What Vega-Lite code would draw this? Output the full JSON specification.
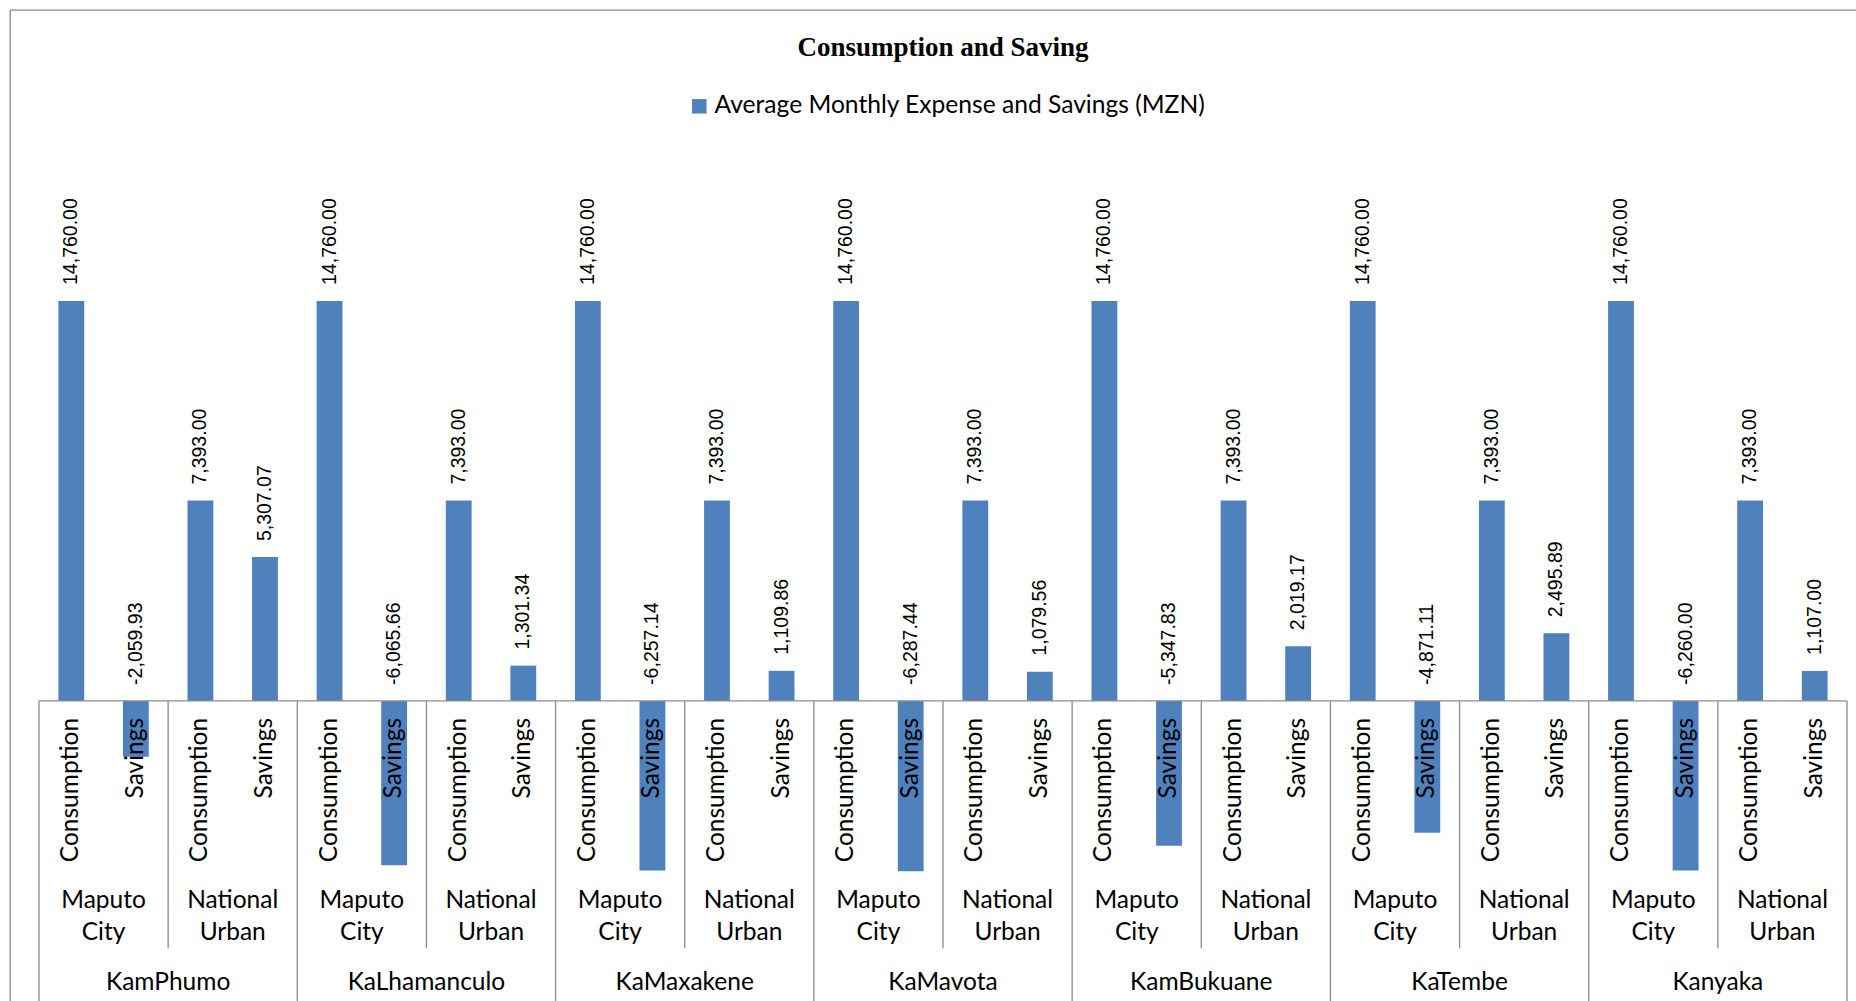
{
  "$schema": "https://vega.github.io/schema/vega-lite/v6.json",
  "autosize": "none",
  "width": 1866,
  "height": 1016,
  "padding": {"left": 10, "top": 10, "right": -20, "bottom": -25},
  "background": "white",
  "title": {
    "text": "Consumption and Saving",
    "font": "Liberation Serif",
    "fontWeight": "bold",
    "fontSize": 27,
    "color": "#000000",
    "anchor": "middle",
    "frame": "group",
    "offset": -52
  },
  "data": {
    "values": [
      {"district": "KamPhumo", "area": "Maputo City", "item": "Consumption", "value": 14760.00},
      {"district": "KamPhumo", "area": "Maputo City", "item": "Savings", "value": -2059.93},
      {"district": "KamPhumo", "area": "National Urban", "item": "Consumption", "value": 7393.00},
      {"district": "KamPhumo", "area": "National Urban", "item": "Savings", "value": 5307.07},
      {"district": "KaLhamanculo", "area": "Maputo City", "item": "Consumption", "value": 14760.00},
      {"district": "KaLhamanculo", "area": "Maputo City", "item": "Savings", "value": -6065.66},
      {"district": "KaLhamanculo", "area": "National Urban", "item": "Consumption", "value": 7393.00},
      {"district": "KaLhamanculo", "area": "National Urban", "item": "Savings", "value": 1301.34},
      {"district": "KaMaxakene", "area": "Maputo City", "item": "Consumption", "value": 14760.00},
      {"district": "KaMaxakene", "area": "Maputo City", "item": "Savings", "value": -6257.14},
      {"district": "KaMaxakene", "area": "National Urban", "item": "Consumption", "value": 7393.00},
      {"district": "KaMaxakene", "area": "National Urban", "item": "Savings", "value": 1109.86},
      {"district": "KaMavota", "area": "Maputo City", "item": "Consumption", "value": 14760.00},
      {"district": "KaMavota", "area": "Maputo City", "item": "Savings", "value": -6287.44},
      {"district": "KaMavota", "area": "National Urban", "item": "Consumption", "value": 7393.00},
      {"district": "KaMavota", "area": "National Urban", "item": "Savings", "value": 1079.56},
      {"district": "KamBukuane", "area": "Maputo City", "item": "Consumption", "value": 14760.00},
      {"district": "KamBukuane", "area": "Maputo City", "item": "Savings", "value": -5347.83},
      {"district": "KamBukuane", "area": "National Urban", "item": "Consumption", "value": 7393.00},
      {"district": "KamBukuane", "area": "National Urban", "item": "Savings", "value": 2019.17},
      {"district": "KaTembe", "area": "Maputo City", "item": "Consumption", "value": 14760.00},
      {"district": "KaTembe", "area": "Maputo City", "item": "Savings", "value": -4871.11},
      {"district": "KaTembe", "area": "National Urban", "item": "Consumption", "value": 7393.00},
      {"district": "KaTembe", "area": "National Urban", "item": "Savings", "value": 2495.89},
      {"district": "Kanyaka", "area": "Maputo City", "item": "Consumption", "value": 14760.00},
      {"district": "Kanyaka", "area": "Maputo City", "item": "Savings", "value": -6260.00},
      {"district": "Kanyaka", "area": "National Urban", "item": "Consumption", "value": 7393.00},
      {"district": "Kanyaka", "area": "National Urban", "item": "Savings", "value": 1107.00}
    ]
  },
  "transform": [
    {"calculate": "datum.district + ' | ' + datum.area + ' | ' + datum.item", "as": "slot"}
  ],
  "encoding": {
    "x": {
      "field": "slot",
      "type": "nominal",
      "sort": null,
      "axis": null,
      "scale": {"paddingInner": 0, "paddingOuter": 0.4491}
    }
  },
  "layer": [
    {
      "mark": {"type": "bar", "width": {"band": 0.4}},
      "encoding": {
        "y": {
          "field": "value",
          "type": "quantitative",
          "axis": null,
          "scale": {"domain": [-12000, 25500], "nice": false, "zero": false}
        },
        "color": {
          "datum": "Average Monthly Expense and Savings (MZN)",
          "type": "nominal",
          "scale": {"range": ["#4F81BD"]},
          "legend": {
            "title": null,
            "orient": "none",
            "legendX": 677,
            "legendY": 84,
            "padding": 0,
            "symbolType": "square",
            "symbolSize": 210,
            "symbolStrokeWidth": 0,
            "labelOffset": 3,
            "labelFont": "Lato",
            "labelFontSize": 24.6,
            "labelColor": "#000000",
            "labelLimit": 800
          }
        }
      }
    },
    {
      "mark": {
        "type": "text",
        "angle": 270,
        "align": "left",
        "baseline": "middle",
        "dx": 16,
        "font": "Liberation Sans",
        "fontSize": 19.5,
        "color": "#000000"
      },
      "encoding": {
        "y": {"field": "value", "type": "quantitative"},
        "text": {"field": "value", "type": "quantitative", "format": ",.2f"},
        "opacity": {"condition": {"test": "datum.value < 0", "value": 0}, "value": 1}
      }
    },
    {
      "mark": {
        "type": "text",
        "angle": 270,
        "align": "left",
        "baseline": "middle",
        "dx": 16,
        "font": "Liberation Sans",
        "fontSize": 19.5,
        "color": "#000000"
      },
      "encoding": {
        "y": {"datum": 0, "type": "quantitative"},
        "text": {"field": "value", "type": "quantitative", "format": ",.2f"},
        "opacity": {"condition": {"test": "datum.value < 0", "value": 1}, "value": 0}
      }
    },
    {
      "mark": {
        "type": "text",
        "angle": 270,
        "align": "right",
        "baseline": "middle",
        "dx": -17,
        "font": "Lato",
        "fontSize": 24.5,
        "color": "#000000"
      },
      "encoding": {
        "y": {"datum": 0, "type": "quantitative"},
        "text": {"field": "item", "type": "nominal"}
      }
    },
    {
      "mark": {
        "type": "text",
        "align": "center",
        "baseline": "alphabetic",
        "lineBreak": " ",
        "lineHeight": 32,
        "dx": 32.29,
        "font": "Lato",
        "fontSize": 24.5,
        "color": "#000000"
      },
      "encoding": {
        "y": {"datum": -7634, "type": "quantitative"},
        "text": {"field": "area", "type": "nominal"},
        "opacity": {"condition": {"test": "datum.item == 'Consumption'", "value": 1}, "value": 0}
      }
    },
    {
      "mark": {
        "type": "text",
        "align": "center",
        "baseline": "alphabetic",
        "dx": -32.29,
        "font": "Lato",
        "fontSize": 24.5,
        "color": "#000000"
      },
      "encoding": {
        "y": {"datum": -10671, "type": "quantitative"},
        "text": {"field": "district", "type": "nominal"},
        "opacity": {"condition": {"test": "datum.area == 'National Urban' && datum.item == 'Consumption'", "value": 1}, "value": 0}
      }
    },
    {
      "mark": {"type": "rule", "color": "#8c8c8c", "strokeWidth": 1.3},
      "encoding": {
        "x": {"field": "slot", "type": "nominal", "sort": null, "bandPosition": 0},
        "x2": {"field": "slot", "bandPosition": 1},
        "y": {"datum": 0, "type": "quantitative"}
      }
    },
    {
      "mark": {"type": "rule", "color": "#8c8c8c", "strokeWidth": 1.3},
      "encoding": {
        "x": {"field": "slot", "type": "nominal", "sort": null, "bandPosition": 0},
        "y": {"datum": 0, "type": "quantitative"},
        "y2": {"datum": -12000},
        "strokeOpacity": {"condition": {"test": "datum.area == 'Maputo City' && datum.item == 'Consumption'", "value": 1}, "value": 0}
      }
    },
    {
      "mark": {"type": "rule", "color": "#8c8c8c", "strokeWidth": 1.3},
      "encoding": {
        "x": {"field": "slot", "type": "nominal", "sort": null, "bandPosition": 1},
        "y": {"datum": 0, "type": "quantitative"},
        "y2": {"datum": -12000},
        "strokeOpacity": {"condition": {"test": "datum.district == 'Kanyaka' && datum.area == 'National Urban' && datum.item == 'Savings'", "value": 1}, "value": 0}
      }
    },
    {
      "mark": {"type": "rule", "color": "#8c8c8c", "strokeWidth": 1.3},
      "encoding": {
        "x": {"field": "slot", "type": "nominal", "sort": null, "bandPosition": 0},
        "y": {"datum": 0, "type": "quantitative"},
        "y2": {"datum": -9132},
        "strokeOpacity": {"condition": {"test": "datum.area == 'National Urban' && datum.item == 'Consumption'", "value": 1}, "value": 0}
      }
    }
  ],
  "config": {
    "view": {"stroke": "#8c8c8c", "strokeWidth": 1.3, "fill": "white"},
    "locale": {
      "number": {
        "decimal": ".",
        "thousands": ",",
        "grouping": [3],
        "currency": ["$", ""],
        "minus": "-"
      }
    }
  }
}
